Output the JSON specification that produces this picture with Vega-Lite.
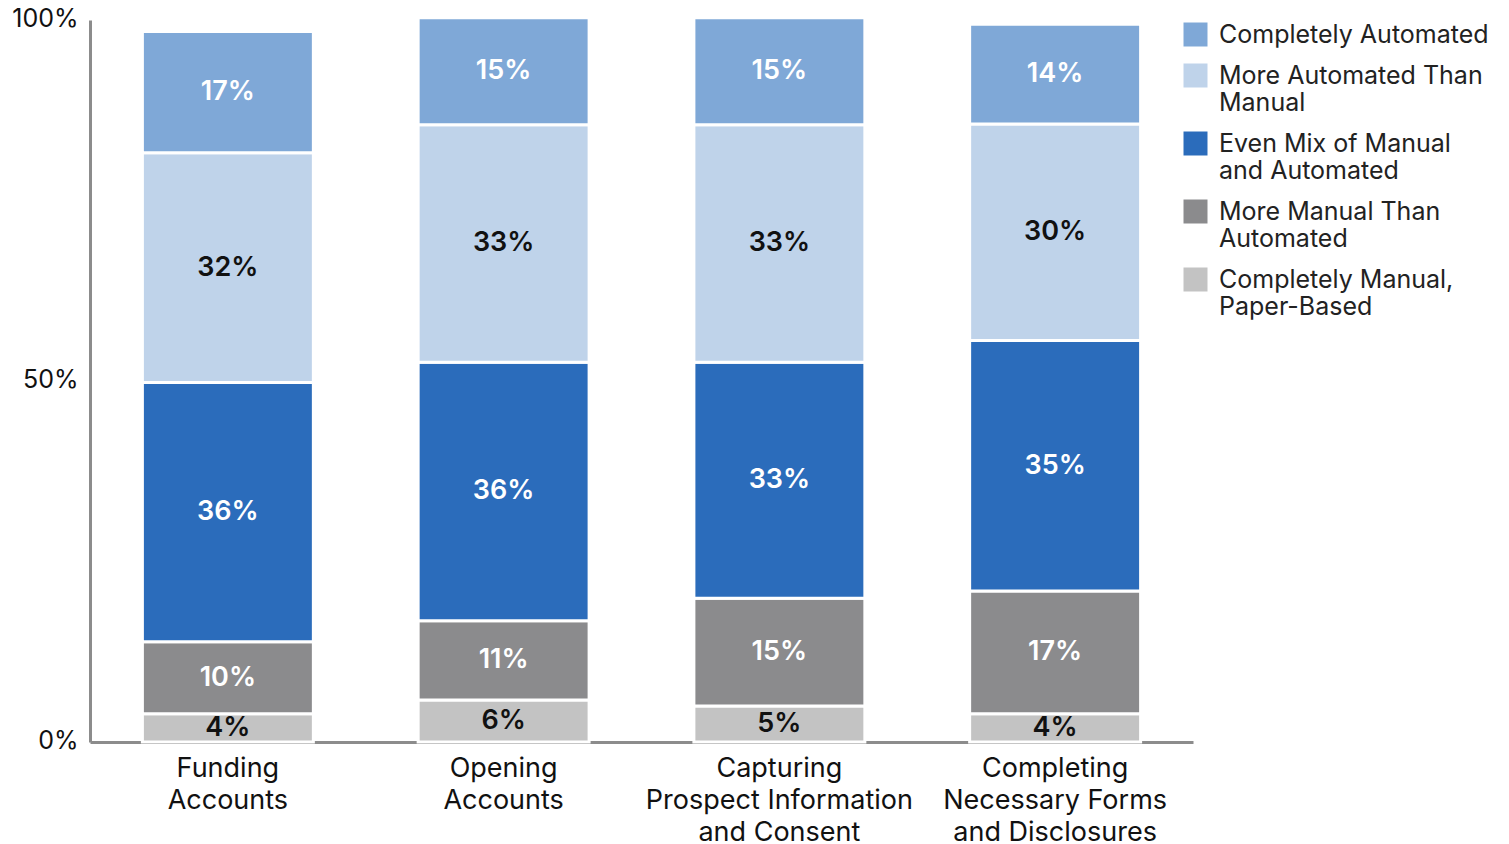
{
  "$schema": "https://vega.github.io/schema/vega-lite/v6.json",
  "width": 1103,
  "height": 722,
  "autosize": "none",
  "padding": {"left": 90, "top": 20, "right": 316, "bottom": 102},
  "background": "white",
  "config": {
    "view": {"stroke": null},
    "font": "Inter",
    "axis": {"labelFont": "Inter", "labelColor": "#111111", "grid": false, "ticks": false, "title": null, "zindex": 1}
  },
  "data": {
    "values": [
      {"task": "Funding Accounts", "cat": "Completely Manual, Paper-Based", "level": 1, "v": 3.9},
      {"task": "Funding Accounts", "cat": "More Manual Than Automated", "level": 2, "v": 10.0},
      {"task": "Funding Accounts", "cat": "Even Mix of Manual and Automated", "level": 3, "v": 35.9},
      {"task": "Funding Accounts", "cat": "More Automated Than Manual", "level": 4, "v": 31.8},
      {"task": "Funding Accounts", "cat": "Completely Automated", "level": 5, "v": 16.8},
      {"task": "Opening Accounts", "cat": "Completely Manual, Paper-Based", "level": 1, "v": 5.8},
      {"task": "Opening Accounts", "cat": "More Manual Than Automated", "level": 2, "v": 11.0},
      {"task": "Opening Accounts", "cat": "Even Mix of Manual and Automated", "level": 3, "v": 35.8},
      {"task": "Opening Accounts", "cat": "More Automated Than Manual", "level": 4, "v": 32.9},
      {"task": "Opening Accounts", "cat": "Completely Automated", "level": 5, "v": 14.8},
      {"task": "Capturing Prospect Information and Consent", "cat": "Completely Manual, Paper-Based", "level": 1, "v": 5.0},
      {"task": "Capturing Prospect Information and Consent", "cat": "More Manual Than Automated", "level": 2, "v": 14.9},
      {"task": "Capturing Prospect Information and Consent", "cat": "Even Mix of Manual and Automated", "level": 3, "v": 32.7},
      {"task": "Capturing Prospect Information and Consent", "cat": "More Automated Than Manual", "level": 4, "v": 32.9},
      {"task": "Capturing Prospect Information and Consent", "cat": "Completely Automated", "level": 5, "v": 14.8},
      {"task": "Completing Necessary Forms and Disclosures", "cat": "Completely Manual, Paper-Based", "level": 1, "v": 3.9},
      {"task": "Completing Necessary Forms and Disclosures", "cat": "More Manual Than Automated", "level": 2, "v": 17.0},
      {"task": "Completing Necessary Forms and Disclosures", "cat": "Even Mix of Manual and Automated", "level": 3, "v": 34.7},
      {"task": "Completing Necessary Forms and Disclosures", "cat": "More Automated Than Manual", "level": 4, "v": 30.0},
      {"task": "Completing Necessary Forms and Disclosures", "cat": "Completely Automated", "level": 5, "v": 13.8}
    ]
  },
  "transform": [
    {"stack": "v", "groupby": ["task"], "sort": [{"field": "level", "order": "ascending"}], "as": ["v0", "v1"]},
    {"calculate": "(datum.v0 + datum.v1) / 2", "as": "mid"},
    {"calculate": "format(datum.v, '.0f') + '%'", "as": "label"}
  ],
  "encoding": {
    "x": {
      "field": "task",
      "type": "nominal",
      "sort": null,
      "scale": {"paddingInner": 0.38, "paddingOuter": 0.19},
      "axis": {
        "labelAngle": 0,
        "labelFontSize": 27,
        "labelLineHeight": 32,
        "labelPadding": 13,
        "labelLimit": 400,
        "domainColor": "#8c8c8c",
        "domainWidth": 3,
        "labelExpr": "datum.label == 'Funding Accounts' ? ['Funding', 'Accounts'] : datum.label == 'Opening Accounts' ? ['Opening', 'Accounts'] : datum.label == 'Capturing Prospect Information and Consent' ? ['Capturing', 'Prospect Information', 'and Consent'] : ['Completing', 'Necessary Forms', 'and Disclosures']"
      }
    }
  },
  "layer": [
    {
      "mark": {"type": "bar", "stroke": "white", "strokeWidth": 3, "clip": false},
      "encoding": {
        "y": {
          "field": "v0",
          "type": "quantitative",
          "scale": {"domain": [0, 100], "nice": false},
          "axis": {
            "values": [0, 50, 100],
            "labelFontSize": 25,
            "labelPadding": 12,
            "labelOffset": -2,
            "domainColor": "#8c8c8c",
            "domainWidth": 3,
            "labelExpr": "datum.value + '%'"
          }
        },
        "y2": {"field": "v1"},
        "color": {
          "field": "cat",
          "type": "nominal",
          "scale": {
            "domain": ["Completely Automated", "More Automated Than Manual", "Even Mix of Manual and Automated", "More Manual Than Automated", "Completely Manual, Paper-Based"],
            "range": ["#7fa8d7", "#bfd3ea", "#2b6cbb", "#8b8b8d", "#c3c3c3"]
          },
          "legend": {
            "orient": "none",
            "legendX": 1093,
            "legendY": 2,
            "title": null,
            "symbolType": "square",
            "symbolSize": 576,
            "symbolStrokeWidth": 0,
            "labelFont": "Inter",
            "labelFontSize": 25,
            "labelColor": "#222222",
            "labelLimit": 400,
            "labelOffset": 11,
            "rowPadding": 15,
            "encode": {"labels": {"enter": {"lineHeight": {"value": 29}}, "update": {"lineHeight": {"value": 29}}}},
            "labelExpr": "datum.label == 'More Automated Than Manual' ? ['More Automated Than', 'Manual'] : datum.label == 'Even Mix of Manual and Automated' ? ['Even Mix of Manual', 'and Automated'] : datum.label == 'More Manual Than Automated' ? ['More Manual Than', 'Automated'] : datum.label == 'Completely Manual, Paper-Based' ? ['Completely Manual,', 'Paper-Based'] : datum.label"
          }
        }
      }
    },
    {
      "mark": {"type": "text", "fontSize": 27, "fontWeight": 600, "baseline": "middle", "align": "center"},
      "encoding": {
        "y": {"field": "mid", "type": "quantitative"},
        "text": {"field": "label", "type": "nominal"},
        "color": {
          "condition": {"test": "datum.level == 1 || datum.level == 4", "value": "#111111"},
          "value": "white"
        }
      }
    }
  ]
}
